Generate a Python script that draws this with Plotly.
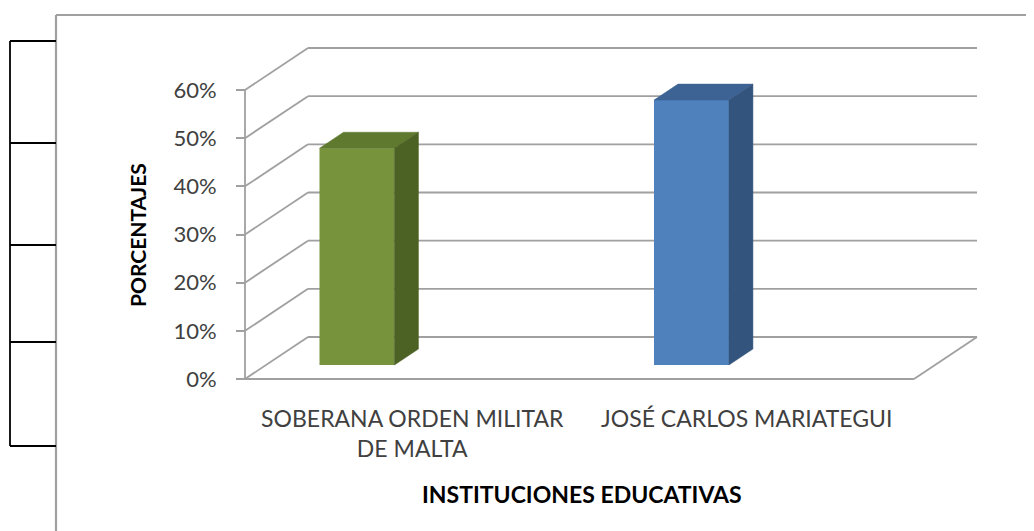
import plotly.graph_objects as go

# ---------------- data ----------------
categories = ["SOBERANA ORDEN MILITAR<br>DE MALTA", "JOSÉ CARLOS MARIATEGUI"]
values = [0.45, 0.55]
tick_values = [0.0, 0.1, 0.2, 0.3, 0.4, 0.5, 0.6]
tick_labels = ["0%", "10%", "20%", "30%", "40%", "50%", "60%"]
y_title = "PORCENTAJES"
x_title = "INSTITUCIONES EDUCATIVAS"

# ---------------- style / layout constants ----------------
W, H = 1034, 531
OFF = 8                      # page body margin in the browser
def fx(p):                   # target pixel -> figure pixel
    return p - OFF

X0_PX, X1_PX = fx(245), fx(914)      # front floor edge
Y0_PX, YTOP_PX = fx(379), fx(90)     # 0% and 60% on the front axis
DEPTH_PX = (63, 42)                  # oblique depth offset of the back wall
F0, F1 = 0.333, 0.714                # bar depth span (fraction of full depth)
BAR_SHIFT = -0.228                   # bar position relative to category tick
BAR_W = 0.224
front_cols = ["#77933C", "#4F81BD"]
top_cols = ["#5F7A2F", "#3D6394"]
side_cols = ["#4C6124", "#33547C"]
GRID = "#A0A0A0"

ncat = len(categories)
cats = list(range(ncat))
ppx = (X1_PX - X0_PX) / ncat
ppy = (Y0_PX - YTOP_PX) / max(tick_values)
x_min = -0.5 - X0_PX / ppx
x_max = (ncat - 0.5) + (W - X1_PX) / ppx
y_min = -(H - Y0_PX) / ppy
y_max = Y0_PX / ppy
DX = DEPTH_PX[0] / ppx
DY = DEPTH_PX[1] / ppy
xl, xr = -0.5, ncat - 0.5

fig = go.Figure()

# front faces as real bars
fig.add_trace(go.Bar(
    x=[c + BAR_SHIFT + F0 * DX for c in cats],
    y=values,
    base=[F0 * DY] * ncat,
    width=BAR_W,
    marker=dict(color=front_cols, line=dict(width=0)),
    hoverinfo="skip",
))

# top and side faces
d = F1 - F0
for c, v, tc, sc in zip(cats, values, top_cols, side_cols):
    cx = c + BAR_SHIFT + F0 * DX
    a, b = cx - BAR_W / 2, cx + BAR_W / 2
    base = F0 * DY
    top = base + v
    fig.add_trace(go.Scatter(
        x=[a, b, b + d * DX, a + d * DX, a],
        y=[top, top, top + d * DY, top + d * DY, top],
        mode="lines", fill="toself", fillcolor=tc,
        line=dict(width=0.5, color=tc), hoverinfo="skip"))
    fig.add_trace(go.Scatter(
        x=[b, b + d * DX, b + d * DX, b, b],
        y=[base, base + d * DY, top + d * DY, top, base],
        mode="lines", fill="toself", fillcolor=sc,
        line=dict(width=0.5, color=sc), hoverinfo="skip"))

shapes = []
gl = dict(color=GRID, width=1.8)
for t in tick_values:
    shapes.append(dict(type="line", xref="x", yref="y", layer="below",
                       x0=xl + DX, x1=xr + DX, y0=t + DY, y1=t + DY, line=gl))
    shapes.append(dict(type="line", xref="x", yref="y", layer="below",
                       x0=xl, x1=xl + DX, y0=t, y1=t + DY, line=gl))
shapes.append(dict(type="line", xref="x", yref="y", layer="below",
                   x0=xl, x1=xr, y0=0, y1=0, line=gl))
shapes.append(dict(type="line", xref="x", yref="y", layer="below",
                   x0=xr, x1=xr + DX, y0=0, y1=DY, line=gl))
shapes.append(dict(type="line", xref="x", yref="y", layer="below",
                   x0=xl, x1=xl, y0=0, y1=max(tick_values), line=gl))

def px_line(x0, y0, x1, y1, color, width):
    x0, y0, x1, y1 = fx(x0), fx(y0), fx(x1), fx(y1)
    return dict(type="line", xref="paper", yref="paper",
                x0=x0 / W, x1=x1 / W, y0=1 - y0 / H, y1=1 - y1 / H,
                line=dict(color=color, width=width))

shapes.append(px_line(56, 15, W + 20, 15, "#A0A0A0", 2.2))
shapes.append(px_line(56, 15, 56, H + 20, "#A0A0A0", 2.2))
shapes.append(px_line(10, 41, 10, 446, "#000000", 1.8))
for yy in [41, 143, 245, 342, 446]:
    shapes.append(px_line(10, yy, 56, yy, "#000000", 1.8))

FONT = "Lato, 'Open Sans', sans-serif"
fig.update_layout(
    width=W, height=H,
    margin=dict(l=0, r=0, t=0, b=0),
    paper_bgcolor="white", plot_bgcolor="white",
    showlegend=False,
    shapes=shapes,
    font=dict(family=FONT, color="#404040"),
    xaxis=dict(range=[x_min, x_max], anchor="free", position=(H - Y0_PX) / H,
               tickvals=cats, ticktext=categories, showgrid=False, zeroline=False,
               showline=False, ticks="", ticklabelstandoff=24,
               tickfont=dict(size=23, color="#404040", family=FONT),
               fixedrange=True),
    yaxis=dict(range=[y_min, y_max], anchor="free", position=X0_PX / W,
               tickvals=tick_values, ticktext=tick_labels, showgrid=False,
               zeroline=False, showline=False, ticks="outside", ticklen=9,
               tickwidth=1.8, tickcolor=GRID, ticklabelstandoff=15,
               tickfont=dict(size=22, color="#404040", family=FONT),
               fixedrange=True),
    annotations=[
        dict(text=f"<b>{y_title}</b>", xref="paper", yref="paper",
             x=fx(137) / W, y=1 - fx(235) / H, showarrow=False, textangle=-90,
             xanchor="center", yanchor="middle",
             font=dict(size=21, color="#000000", family=FONT)),
        dict(text=f"<b>{x_title}</b>", xref="paper", yref="paper",
             x=fx(582) / W, y=1 - fx(494) / H, showarrow=False,
             xanchor="center", yanchor="middle",
             font=dict(size=23, color="#000000", family=FONT)),
    ],
)

fig.write_html("out.html")
